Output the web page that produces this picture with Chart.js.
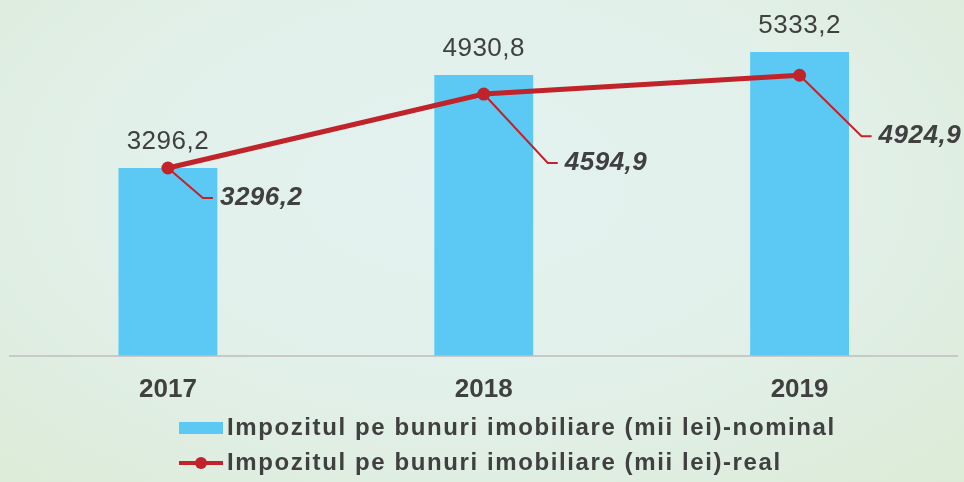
<!DOCTYPE html>
<html><head><meta charset="utf-8">
<script src="https://cdn.jsdelivr.net/npm/chart.js@4/dist/chart.umd.min.js"></script>
<style>
html,body{margin:0;padding:0;}
body{width:964px;height:482px;overflow:hidden;background:radial-gradient(ellipse at 48% 38%, #e4f2f1 0%, #e2f0ea 50%, #dcebd6 100%);}
</style></head><body>
<canvas id="c" width="964" height="482"></canvas>
<script>
const categories = ['2017', '2018', '2019'];
const nominalValues = [3296.2, 4930.8, 5333.2];
const realValues = [3296.2, 4594.9, 4924.9];
const nominalLabel = 'Impozitul pe bunuri imobiliare (mii lei)-nominal';
const realLabel = 'Impozitul pe bunuri imobiliare (mii lei)-real';

const fmt = v => v.toFixed(1).replace('.', ',');
const FAMILY = '"Liberation Sans", Arial, sans-serif';
const BAR = '#5bc9f3', RED = '#c1232b', TXT = '#404040';
const leaderOffsets = [[35, 30], [64, 69], [62, 61]];

const labelsPlugin = {
  id: 'valueLabels',
  afterDatasetsDraw(chart) {
    const ctx = chart.ctx;
    const barMeta = chart.getDatasetMeta(0), lineMeta = chart.getDatasetMeta(1);
    ctx.save();
    ctx.fillStyle = TXT; ctx.textAlign = 'center'; ctx.textBaseline = 'middle';
    ctx.font = '26px ' + FAMILY;
    ctx.letterSpacing = '0.5px';
    barMeta.data.forEach((el, i) => ctx.fillText(fmt(chart.data.datasets[0].data[i]), el.x, el.y - 26));
    lineMeta.data.forEach((el, i) => {
      const [dx, dy] = leaderOffsets[i];
      ctx.strokeStyle = RED; ctx.lineWidth = 2;
      ctx.beginPath(); ctx.moveTo(el.x, el.y); ctx.lineTo(el.x + dx, el.y + dy); ctx.lineTo(el.x + dx + 10, el.y + dy); ctx.stroke();
      ctx.font = 'italic bold 26px ' + FAMILY; ctx.textAlign = 'left';
      ctx.fillStyle = TXT;
      ctx.fillText(fmt(chart.data.datasets[1].data[i]), el.x + dx + 17, el.y + dy);
    });
    ctx.restore();
  }
};

const legendPlugin = {
  id: 'customLegend',
  afterDraw(chart) {
    const ctx = chart.ctx;
    ctx.save();
    const x0 = 179, tx = 227, y1 = 428, y2 = 463;
    ctx.fillStyle = chart.data.datasets[0].backgroundColor;
    ctx.fillRect(x0, y1 - 6, 44, 12);
    ctx.strokeStyle = chart.data.datasets[1].borderColor; ctx.lineWidth = 4;
    ctx.beginPath(); ctx.moveTo(x0, y2); ctx.lineTo(x0 + 44, y2); ctx.stroke();
    ctx.fillStyle = chart.data.datasets[1].borderColor;
    ctx.beginPath(); ctx.arc(x0 + 22, y2, 6, 0, Math.PI * 2); ctx.fill();
    ctx.fillStyle = TXT; ctx.font = 'bold 24px ' + FAMILY;
    ctx.letterSpacing = '1.6px'; ctx.textBaseline = 'middle'; ctx.textAlign = 'left';
    ctx.fillText(chart.data.datasets[0].label, tx, y1);
    ctx.fillText(chart.data.datasets[1].label, tx, y2);
    ctx.restore();
  }
};

new Chart(document.getElementById('c'), {
  data: {
    labels: categories,
    datasets: [
      { type: 'bar', label: nominalLabel, data: nominalValues, backgroundColor: BAR,
        barPercentage: 0.313, categoryPercentage: 1, order: 2 },
      { type: 'line', label: realLabel, data: realValues, borderColor: RED, backgroundColor: RED,
        borderWidth: 5, pointRadius: 6.5, pointBackgroundColor: RED, pointBorderWidth: 0,
        tension: 0, order: 1 }
    ]
  },
  options: {
    responsive: false, animation: false, devicePixelRatio: 1,
    layout: { padding: { left: 10, right: 6, top: 14, bottom: 59 } },
    plugins: { legend: { display: false }, tooltip: { enabled: false } },
    scales: {
      x: {
        grid: { drawOnChartArea: false, drawTicks: false, color: 'transparent' },
        border: { display: true, color: '#c9c9c9', width: 2 },
        ticks: { font: { family: FAMILY, size: 26, weight: 'bold' }, color: TXT, padding: 18 }
      },
      y: { display: false, min: 0, max: 6000 }
    }
  },
  plugins: [labelsPlugin, legendPlugin]
});
</script>
</body></html>
